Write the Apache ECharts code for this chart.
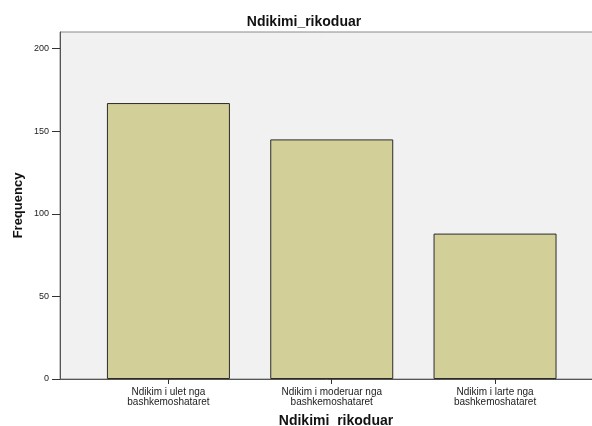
<!DOCTYPE html>
<html>
<head>
<meta charset="utf-8">
<script src="https://cdn.jsdelivr.net/npm/echarts@6/dist/echarts.min.js"></script>
<style>html,body{margin:0;padding:0;background:#fff;}#c{width:592px;height:426px;}</style>
</head>
<body>
<div id="c"></div>
<script>
var categories = ["Ndikim i ulet nga\nbashkemoshataret", "Ndikim i moderuar nga\nbashkemoshataret", "Ndikim i larte nga\nbashkemoshataret"];
var positions = [1, 2, 3];
var frequency = [167, 145, 88];
var yTicks = [0, 50, 100, 150, 200];

var chart = echarts.init(document.getElementById('c'));
var FONT = '"Liberation Sans", Arial, sans-serif';
chart.setOption({
  animation: false,
  backgroundColor: '#ffffff',
  title: {
    text: 'Ndikimi_rikoduar',
    left: 304, top: 15, padding: 0,
    textAlign: 'center',
    textStyle: { fontFamily: FONT, fontSize: 14, fontWeight: 'bold', color: '#111' }
  },
  grid: {
    left: 60, right: -2, top: 32, bottom: 47,
    outerBoundsMode: 'none',
    containLabel: false,
    show: true, backgroundColor: '#f0f1f0', borderColor: '#8a8a8a', borderWidth: 1
  },
  xAxis: {
    type: 'value',
    min: 0.336, max: 3.606,
    name: 'Ndikimi  rikoduar',
    nameLocation: 'middle',
    nameGap: 35,
    nameTextStyle: { fontFamily: FONT, fontSize: 14, fontWeight: 'bold', color: '#111', padding: [0, 0, 0, 18] },
    axisLine: { show: true, lineStyle: { color: '#555', width: 1 } },
    axisTick: { show: true, length: 5, customValues: positions, lineStyle: { color: '#333' } },
    splitLine: { show: false },
    axisLabel: {
      customValues: positions,
      margin: 8,
      fontFamily: FONT, fontSize: 10, lineHeight: 10, color: '#222',
      formatter: function (v) { var i = positions.indexOf(Math.round(v)); return i >= 0 ? categories[i] : ''; }
    }
  },
  yAxis: {
    type: 'value',
    min: 0, max: 210,
    name: 'Frequency',
    nameLocation: 'middle',
    nameGap: 35,
    nameMoveOverlap: false,
    nameTextStyle: { fontFamily: FONT, fontSize: 13, fontWeight: 'bold', color: '#111' },
    axisLine: { show: true, lineStyle: { color: '#555', width: 1 } },
    axisTick: { show: true, length: 8, customValues: yTicks, lineStyle: { color: '#333' } },
    splitLine: { show: false },
    axisLabel: { customValues: yTicks, margin: 11, fontFamily: FONT, fontSize: 9, color: '#222' }
  },
  series: [{
    type: 'bar',
    barWidth: 123,
    data: positions.map(function (p, i) { return [p, frequency[i]]; }),
    itemStyle: { color: '#d3cf98', borderColor: '#2b2b2b', borderWidth: 1 }
  }]
});
</script>
</body>
</html>
